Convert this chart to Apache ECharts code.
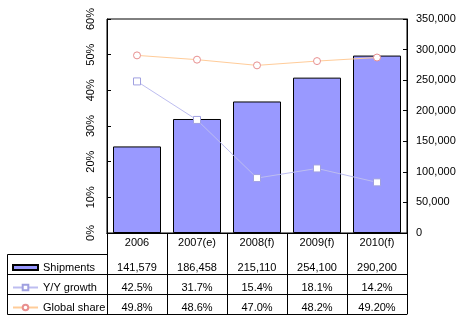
<!DOCTYPE html>
<html>
<head>
<meta charset="utf-8">
<script src="https://cdn.jsdelivr.net/npm/echarts@6/dist/echarts.min.js"></script>
<style>html,body{margin:0;padding:0;background:#fff;}#c{width:462px;height:322px;}</style>
</head>
<body>
<div id="c"></div>
<script>
const categories = ['2006', '2007(e)', '2008(f)', '2009(f)', '2010(f)'];
const shipments = [141579, 186458, 215110, 254100, 290200];
const yoyGrowth = [42.5, 31.7, 15.4, 18.1, 14.2];
const globalShare = [49.8, 48.6, 47.0, 48.2, 49.2];
const shipmentsLabels = ['141,579', '186,458', '215,110', '254,100', '290,200'];
const yoyLabels = ['42.5%', '31.7%', '15.4%', '18.1%', '14.2%'];
const shareLabels = ['49.8%', '48.6%', '47.0%', '48.2%', '49.20%'];
const seriesNames = ['Shipments', 'Y/Y growth', 'Global share'];

const FONT = 'Liberation Sans, Arial, sans-serif';
const black = '#000';
function tableAxis(offset, labels, margin) {
  return {
    type: 'category', data: categories, position: 'bottom', offset: offset,
    axisLine: { show: true, lineStyle: { color: black, width: 1 } },
    axisTick: { show: false },
    axisLabel: labels ? { show: true, interval: 0, margin: margin, fontSize: 11, fontFamily: FONT, color: black,
      formatter: (v, i) => labels[i] } : { show: false },
    splitLine: { show: false }
  };
}
function legendRow(name, top, itemHeight, icon) {
  const d = { name: name };
  if (icon) d.icon = icon;
  return {
    orient: 'vertical', left: 12, top: top, padding: 0,
    itemWidth: 25, itemHeight: itemHeight, itemGap: 0,
    textStyle: { fontSize: 11, fontFamily: FONT, color: black },
    data: [d]
  };
}
const chart = echarts.init(document.getElementById('c'), null, { renderer: 'canvas' });
chart.setOption({
  animation: false,
  backgroundColor: '#fff',
  textStyle: { fontFamily: FONT },
  grid: { left: 107, right: 55, top: 19, bottom: 89, show: true, borderColor: black, borderWidth: 1, backgroundColor: 'transparent' },
  legend: [
    legendRow(seriesNames[0], 262, 5, 'rect'),
    legendRow(seriesNames[1], 282, 7, null),
    legendRow(seriesNames[2], 302, 7, null)
  ],
  xAxis: [
    {
      type: 'category', data: categories, position: 'bottom',
      axisLine: { show: true, lineStyle: { color: black } },
      axisTick: { show: true, length: 81, lineStyle: { color: black } },
      axisLabel: { interval: 0, margin: 4, fontSize: 11, fontFamily: FONT, color: black },
      splitLine: { show: false }
    },
    tableAxis(21, shipmentsLabels, 8),
    tableAxis(41, yoyLabels, 8),
    tableAxis(61, shareLabels, 8),
    tableAxis(81, null, 0)
  ],
  yAxis: [
    {
      type: 'value', position: 'left', min: 0, max: 60, interval: 10,
      axisLine: { show: true, lineStyle: { color: black } },
      axisTick: { show: true, inside: true, length: 4, lineStyle: { color: black } },
      axisLabel: { rotate: 90, margin: 11, fontSize: 11, fontFamily: FONT, color: black, formatter: v => v + '%' },
      splitLine: { show: false }
    },
    {
      type: 'value', position: 'right', min: 0, max: 350000, interval: 50000,
      axisLine: { show: true, lineStyle: { color: black } },
      axisTick: { show: true, inside: true, length: 4, lineStyle: { color: black } },
      axisLabel: { margin: 9, fontSize: 11, fontFamily: FONT, color: black, formatter: v => v.toLocaleString('en-US') },
      splitLine: { show: false }
    }
  ],
  graphic: [
    { type: 'polyline', silent: true, shape: { points: [[107, 254.5], [7.5, 254.5], [7.5, 314.5], [107, 314.5]] }, style: { stroke: black, fill: null, lineWidth: 1 } },
    { type: 'line', silent: true, shape: { x1: 7.5, y1: 274.5, x2: 107, y2: 274.5 }, style: { stroke: black, lineWidth: 1 } },
    { type: 'line', silent: true, shape: { x1: 7.5, y1: 294.5, x2: 107, y2: 294.5 }, style: { stroke: black, lineWidth: 1 } }
  ],
  series: [
    {
      name: seriesNames[0], type: 'bar', xAxisIndex: 0, yAxisIndex: 1, data: shipments,
      barCategoryGap: '20%',
      itemStyle: { color: '#9999FF', borderColor: black, borderWidth: 1 }
    },
    {
      name: seriesNames[1], type: 'line', xAxisIndex: 0, yAxisIndex: 0, data: yoyGrowth,
      symbol: 'rect', symbolSize: 7, showAllSymbol: true,
      lineStyle: { color: '#BDBDF0', width: 1 },
      itemStyle: { color: '#fff', borderColor: '#A0A0E0', borderWidth: 1 }
    },
    {
      name: seriesNames[2], type: 'line', xAxisIndex: 0, yAxisIndex: 0, data: globalShare,
      symbol: 'circle', symbolSize: 7, showAllSymbol: true,
      lineStyle: { color: '#FFCC99', width: 1 },
      itemStyle: { color: '#fff', borderColor: '#E89090', borderWidth: 1 }
    }
  ]
});
</script>
</body>
</html>
